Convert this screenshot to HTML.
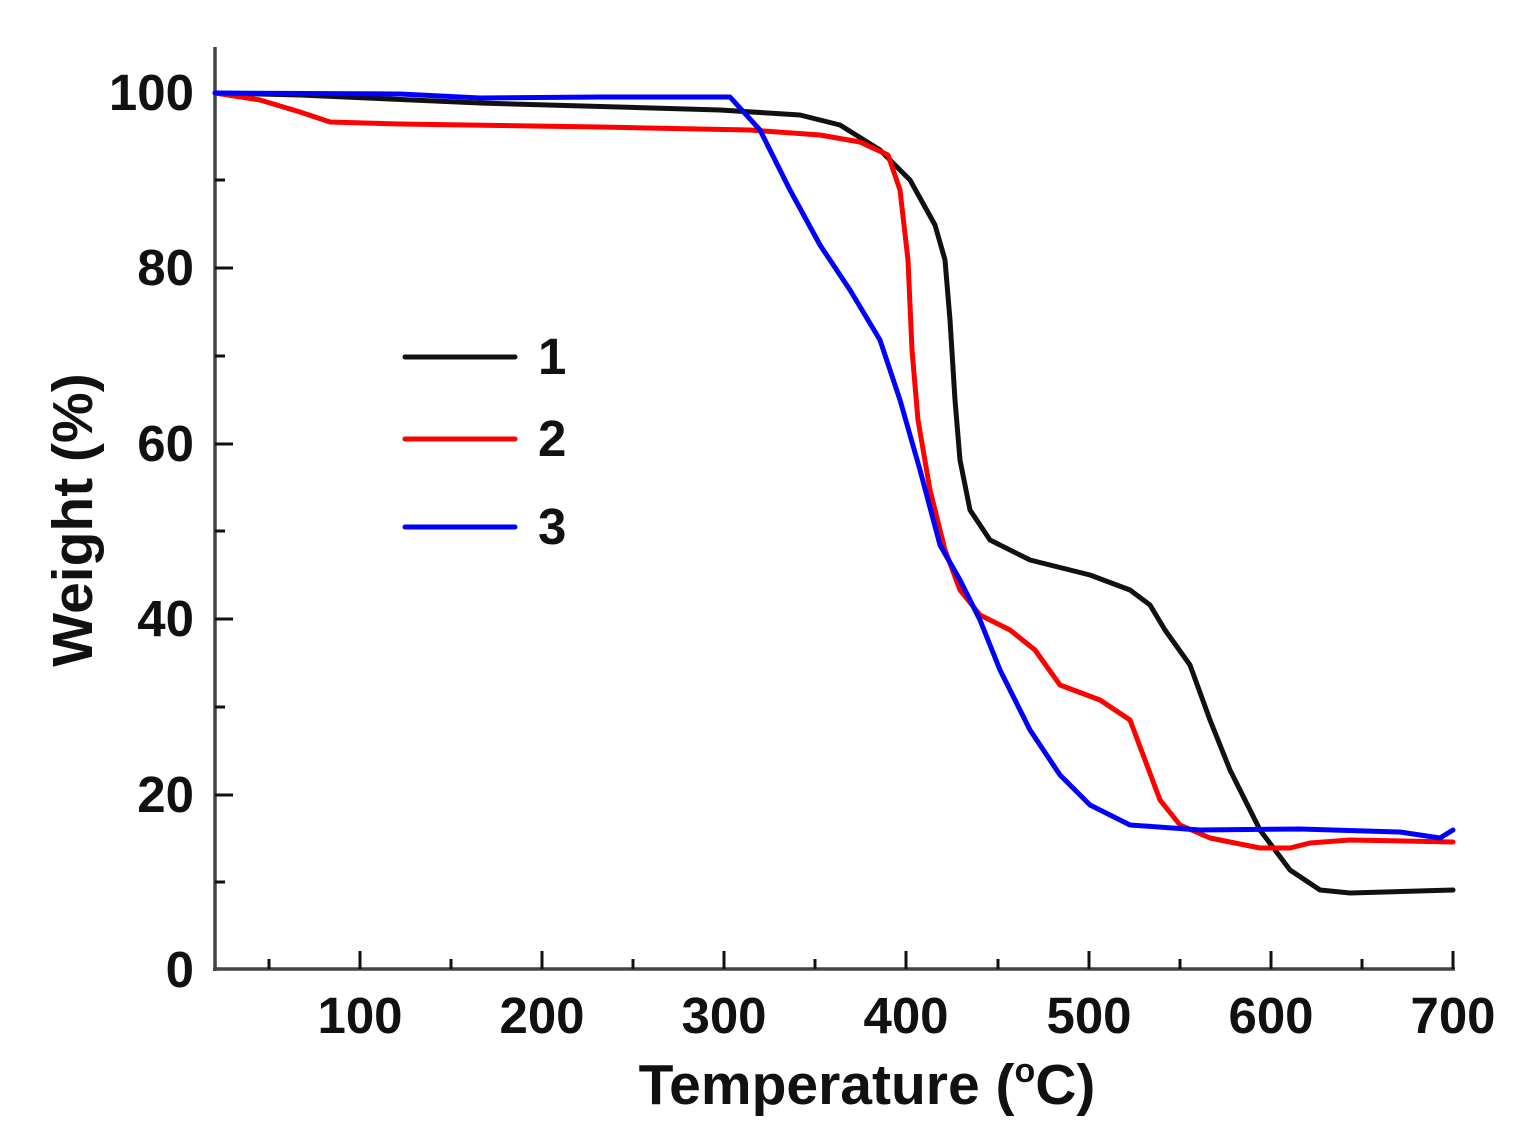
<!DOCTYPE html>
<html><head><meta charset="utf-8"><style>
html,body{margin:0;padding:0;background:#fff;}
svg{display:block;}
text{font-family:"Liberation Sans",Arial,sans-serif;font-weight:bold;fill:#111;}
</style></head><body>
<svg width="1525" height="1145" viewBox="0 0 1525 1145" xmlns="http://www.w3.org/2000/svg">
<g stroke="#444" stroke-width="3.5" fill="none">
<line x1="215" y1="47" x2="215" y2="971"/>
<line x1="213" y1="969" x2="1455" y2="969"/>
</g>
<g stroke="#111" stroke-width="3">
<line x1="215" y1="93" x2="230" y2="93"/><line x1="215" y1="180" x2="225" y2="180"/>
<line x1="215" y1="268" x2="233" y2="268"/><line x1="215" y1="356" x2="225" y2="356"/>
<line x1="215" y1="444" x2="233" y2="444"/><line x1="215" y1="531" x2="225" y2="531"/>
<line x1="215" y1="619" x2="233" y2="619"/><line x1="215" y1="707" x2="225" y2="707"/>
<line x1="215" y1="795" x2="233" y2="795"/><line x1="215" y1="882" x2="225" y2="882"/>
<line x1="269" y1="969" x2="269" y2="959"/><line x1="360" y1="969" x2="360" y2="951"/>
<line x1="451" y1="969" x2="451" y2="959"/><line x1="542" y1="969" x2="542" y2="951"/>
<line x1="633" y1="969" x2="633" y2="959"/><line x1="724" y1="969" x2="724" y2="951"/>
<line x1="815" y1="969" x2="815" y2="959"/><line x1="906" y1="969" x2="906" y2="951"/>
<line x1="998" y1="969" x2="998" y2="959"/><line x1="1089" y1="969" x2="1089" y2="951"/>
<line x1="1180" y1="969" x2="1180" y2="959"/><line x1="1271" y1="969" x2="1271" y2="951"/>
<line x1="1362" y1="969" x2="1362" y2="959"/><line x1="1453" y1="969" x2="1453" y2="951"/>
</g>
<g font-size="51" text-anchor="end">
<text x="194" y="110">100</text><text x="194" y="285">80</text><text x="194" y="461">60</text>
<text x="194" y="636">40</text><text x="194" y="812">20</text><text x="194" y="987">0</text>
</g>
<g font-size="51" text-anchor="middle">
<text x="360" y="1033">100</text><text x="542" y="1033">200</text><text x="724" y="1033">300</text>
<text x="906" y="1033">400</text><text x="1089" y="1033">500</text><text x="1271" y="1033">600</text>
<text x="1453" y="1033">700</text>
</g>
<text x="867" y="1104" font-size="57" text-anchor="middle">Temperature (<tspan font-size="34" dy="-22">o</tspan><tspan dy="22">C)</tspan></text>
<text transform="translate(92,520) rotate(-90)" font-size="57" text-anchor="middle">Weight (%)</text>
<g fill="none" stroke-width="5" stroke-linejoin="round" stroke-linecap="round">
<polyline stroke="#111" points="215,93 300,95 480,103 720,110 800,115 840,125 880,150 910,180 935,225 945,260 950,320 955,400 960,460 970,510 990,540 1030,560 1090,575 1130,590 1150,605 1165,630 1190,665 1210,720 1230,770 1260,830 1290,870 1320,890 1350,893 1453,890"/>
<polyline stroke="#f00" points="215,93 260,100 300,112 330,122 400,124 600,127 750,130 820,135 860,142 888,155 900,190 908,260 912,350 918,420 930,490 945,550 960,590 980,615 1010,630 1035,650 1060,685 1100,700 1130,720 1145,760 1160,800 1180,825 1210,838 1260,848 1290,848 1310,843 1350,840 1453,842"/>
<polyline stroke="#00f" points="215,93 400,94 480,98 600,97 730,97 760,130 790,190 820,245 850,290 880,340 900,400 920,470 940,545 960,580 980,620 1000,670 1030,730 1060,775 1090,805 1130,825 1200,830 1300,829 1400,832 1440,838 1453,830"/>
<line stroke="#111" x1="405" y1="357" x2="515" y2="357"/>
<line stroke="#f00" x1="405" y1="439" x2="515" y2="439"/>
<line stroke="#00f" x1="405" y1="527" x2="515" y2="527"/>
</g>
<g font-size="51">
<text x="538" y="374">1</text><text x="538" y="456">2</text><text x="538" y="544">3</text>
</g>
</svg>
</body></html>
